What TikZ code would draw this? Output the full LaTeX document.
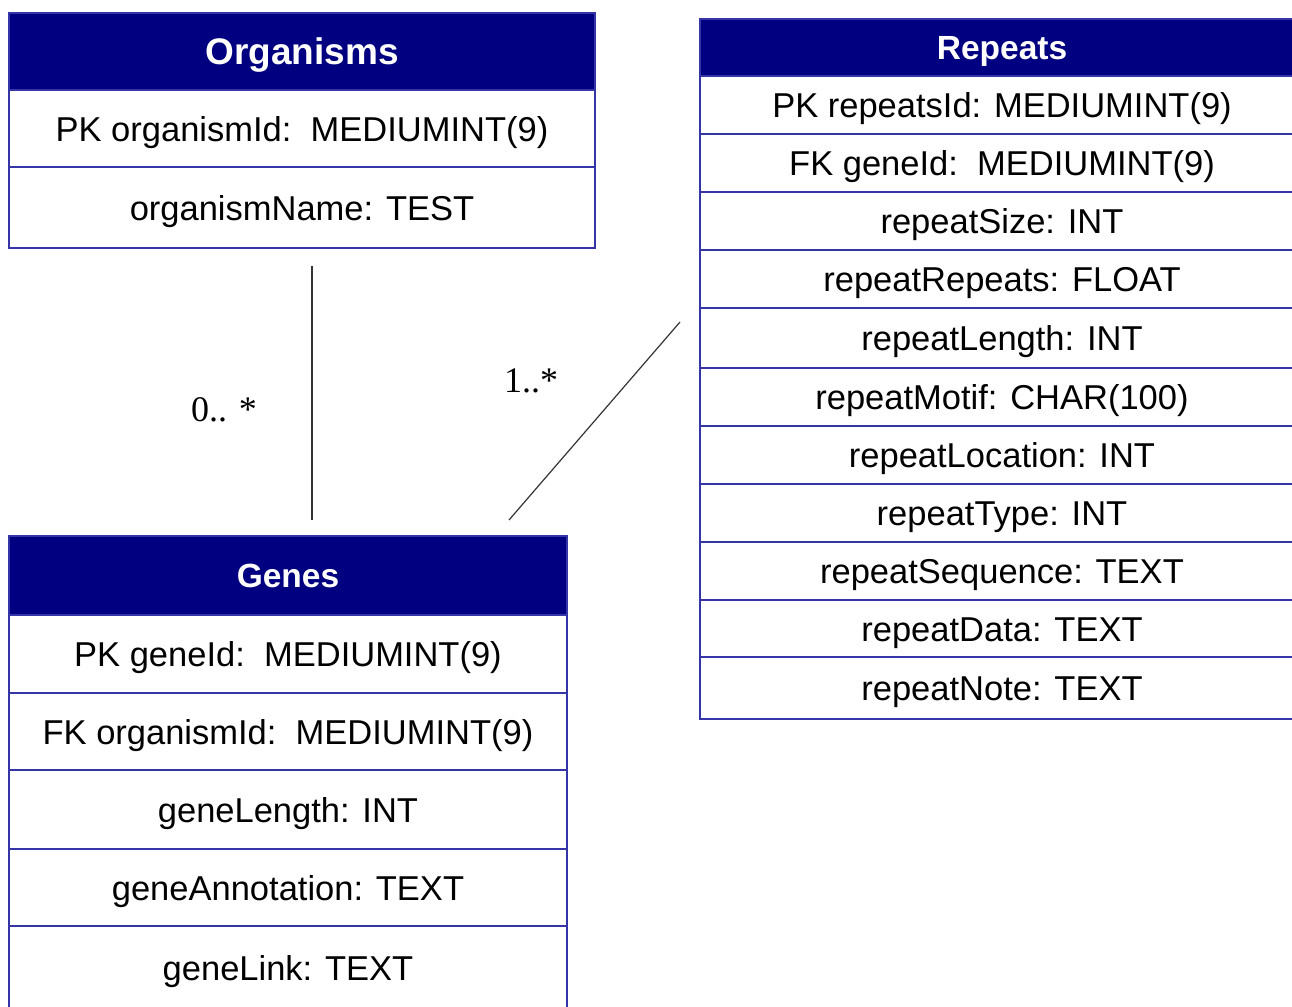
\documentclass[tikz,border=0pt]{standalone}
\usepackage{fontspec}
\setmainfont{Liberation Sans}
\newfontfamily\labserif{Liberation Serif}
\definecolor{hdr}{HTML}{000080}
\definecolor{bdr}{HTML}{3535A8}
\definecolor{lnk}{HTML}{333333}
\begin{document}
\begin{tikzpicture}[x=1pt,y=-1pt,
  cell/.style={draw=bdr,line width=1.3pt,fill=white,inner sep=0pt,text=black,
    text height=25pt,text depth=0pt,
    font=\fontsize{34.5}{40}\selectfont},
  head/.style={cell,fill=hdr,text=white,text height=24pt,font=\fontsize{33.5}{40}\selectfont\bfseries},
  lab/.style={inner sep=0pt,font=\labserif\fontsize{36}{40}\selectfont},
  conn/.style={draw=lnk,line width=1.2pt}]
\useasboundingbox (0,0) rectangle (1292,1006);

% Organisms
\node[head,minimum width=586,minimum height=77,text height=26.5pt,font=\fontsize{37}{40}\selectfont\bfseries] (orgH) at (302,51.5) {Organisms};
\node[cell,minimum width=586,minimum height=77] (org1) at (302,128.5) {PK organismId:\ \ MEDIUMINT(9)};
\node[cell,minimum width=586,minimum height=81] (org2) at (302,207.5) {organismName: TEST};

% Repeats
\node[head,minimum width=604,minimum height=57] (repH) at (1002,47.5) {Repeats};
\node[cell,minimum width=604,minimum height=58] (rep1) at (1002,105) {PK repeatsId: MEDIUMINT(9)};
\node[cell,minimum width=604,minimum height=58] (rep2) at (1002,163) {FK geneId:\ \ MEDIUMINT(9)};
\node[cell,minimum width=604,minimum height=58] (rep3) at (1002,221) {repeatSize: INT};
\node[cell,minimum width=604,minimum height=58] (rep4) at (1002,279) {repeatRepeats: FLOAT};
\node[cell,minimum width=604,minimum height=60] (rep5) at (1002,338) {repeatLength: INT};
\node[cell,minimum width=604,minimum height=58] (rep6) at (1002,397) {repeatMotif: CHAR(100)};
\node[cell,minimum width=604,minimum height=58] (rep7) at (1002,455) {repeatLocation: INT};
\node[cell,minimum width=604,minimum height=58] (rep8) at (1002,513) {repeatType: INT};
\node[cell,minimum width=604,minimum height=58] (rep9) at (1002,571) {repeatSequence: TEXT};
\node[cell,minimum width=604,minimum height=57] (rep10) at (1002,628.5) {repeatData: TEXT};
\node[cell,minimum width=604,minimum height=62] (rep11) at (1002,688) {repeatNote: TEXT};

% Genes
\node[head,minimum width=558,minimum height=79] (genH) at (288,575.5) {Genes};
\node[cell,minimum width=558,minimum height=78] (gen1) at (288,654) {PK geneId:\ \ MEDIUMINT(9)};
\node[cell,minimum width=558,minimum height=77] (gen2) at (288,731.5) {FK organismId:\ \ MEDIUMINT(9)};
\node[cell,minimum width=558,minimum height=79] (gen3) at (288,809.5) {geneLength: INT};
\node[cell,minimum width=558,minimum height=77] (gen4) at (288,887.5) {geneAnnotation: TEXT};
\node[cell,minimum width=558,minimum height=84] (gen5) at (288,968) {geneLink: TEXT};

% connectors
\coordinate (c1a) at (312,266);
\coordinate (c1b) at (312,520);
\coordinate (c2a) at (680,322);
\coordinate (c2b) at (509,520);
\draw[conn] (c1a) -- (c1b);
\draw[conn] (c2a) -- (c2b);

\node[lab] (m1) at (224,410) {0.. *};
\node[lab] (m2) at (531,381) {1..*};
\end{tikzpicture}
\end{document}
